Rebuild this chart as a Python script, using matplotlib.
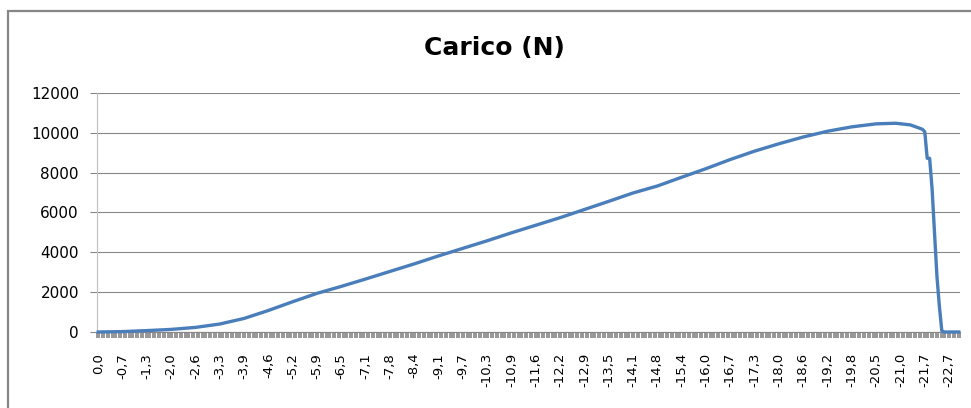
import numpy as np
import matplotlib
matplotlib.use("Agg")
import matplotlib.pyplot as plt
from matplotlib.patches import Rectangle

# etichette asse x (spostamento, mm) - una ogni 10 punti
etichette_x = ['0,0', '-0,7', '-1,3', '-2,0', '-2,6', '-3,3', '-3,9', '-4,6', '-5,2',
               '-5,9', '-6,5', '-7,1', '-7,8', '-8,4', '-9,1', '-9,7', '-10,3', '-10,9',
               '-11,6', '-12,2', '-12,9', '-13,5', '-14,1', '-14,8', '-15,4', '-16,0',
               '-16,7', '-17,3', '-18,0', '-18,6', '-19,2', '-19,8', '-20,5', '-21,0',
               '-21,7', '-22,7']
passo_etichette = 10

# punti: indice di categoria e carico (N)
indice = [0, 10, 20, 30, 40, 50, 60, 70, 80, 90, 100, 110, 120, 130, 140, 150, 160,
          170, 180, 190, 200, 210, 220, 230, 240, 250, 260, 270, 280, 290, 300, 310,
          320, 328, 334, 339, 340, 341, 342, 343, 344, 345, 346, 347, 348, 354]
carico = [0, 20, 70, 130, 230, 400, 680, 1080, 1520, 1940, 2290, 2660, 3040, 3420,
          3820, 4200, 4580, 4980, 5360, 5740, 6150, 6560, 6980, 7330, 7770, 8200,
          8660, 9080, 9450, 9790, 10080, 10300, 10450, 10480, 10400, 10180, 10050,
          8720, 8720, 7200, 5000, 2800, 1300, 60, 0, 0]

grigio = '#868686'

fig = plt.figure(figsize=(9.71, 4.08), dpi=100)
ax = fig.add_axes([0.0999, 0.1863, 0.8888, 0.5858])

ax.plot(indice, carico, color='#4A7EBB', lw=2.4, solid_joinstyle='round',
        clip_on=False, zorder=5)

n_cat = indice[-1] + 1
ax.set_xlim(-0.5, n_cat - 0.5)
ax.set_ylim(0, 12000)

# asse y
ax.set_yticks(np.arange(0, 12001, 2000))
ax.set_yticklabels([str(v) for v in range(0, 12001, 2000)])
ax.grid(axis='y', color=grigio, lw=0.8)
ax.tick_params(axis='y', length=5, width=0.8, color=grigio, pad=8,
               labelsize=11)

# asse x a categorie
ax.set_xticks(np.arange(0, len(etichette_x) * passo_etichette, passo_etichette))
ax.set_xticklabels(etichette_x, rotation=90, va='top', ha='center')
ax.set_xticks(np.arange(-0.5, n_cat, 1), minor=True)
ax.tick_params(axis='x', which='major', length=0, pad=15, labelsize=9.5)
ax.tick_params(axis='x', which='minor', length=4.5, width=1.1, color='#7a7a7a')

for s in ['top', 'right']:
    ax.spines[s].set_visible(False)
ax.spines['left'].set_color('#BFBFBF')
ax.spines['left'].set_linewidth(0.8)
ax.spines['bottom'].set_color(grigio)
ax.spines['bottom'].set_linewidth(0.8)

fig.text(0.5088, 0.882, 'Carico (N)', ha='center', va='center',
         fontsize=18, fontweight='bold')

# bordo del grafico
fig.patches.append(Rectangle((0.0082, -0.05), 1.1, 0.05 + 0.973, fill=False,
                             edgecolor=grigio, lw=1.6,
                             transform=fig.transFigure, figure=fig))

fig.savefig('out.png', dpi=100)
